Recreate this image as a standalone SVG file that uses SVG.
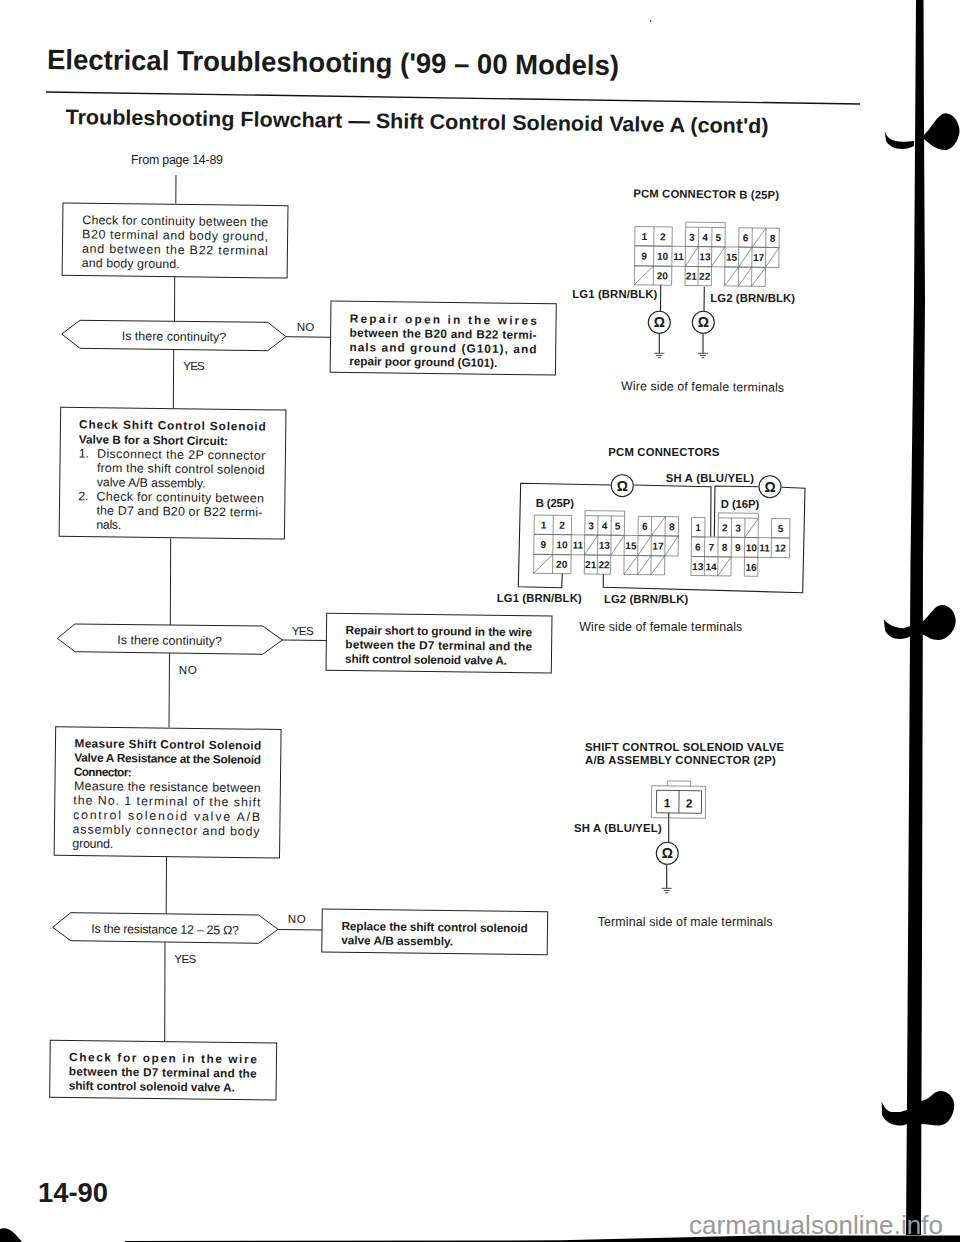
<svg xmlns="http://www.w3.org/2000/svg" width="960" height="1242" viewBox="0 0 960 1242">
<style>
text{font-family:"Liberation Sans",Arial,sans-serif;fill:#1a1a1a}
.box{fill:#fff;stroke:#222;stroke-width:1}
.flow{fill:none;stroke:#222;stroke-width:1}
.wire{fill:none;stroke:#222;stroke-width:1.1}
.t{font-size:12.4px}
.b{font-size:11.8px;font-weight:bold}
.l{font-size:11.3px;font-weight:bold}
.c{font-size:12.4px}
.y{font-size:11.6px}
.n{font-size:10px;font-weight:bold;text-anchor:middle}
.o{font-size:14px;font-weight:bold;text-anchor:middle}
.grid{fill:none;stroke:#666;stroke-width:.7}
.g{fill:#fff;stroke:#222;stroke-width:1.1}
.gnd{fill:none;stroke:#333;stroke-width:.9}
</style>
<defs>
<g id="grid25" class="grid">
<path d="M0 0H37.3V19.3H0ZM19 0V19.3M50.7 0H90.3V19.3H50.7ZM63.7 0V19.3M77 0V19.3M50.7 0V-5H90.3V0M104 0H144.3V19.3H104ZM117.3 0V19.3M131 0V19.3M117.3 19.3L131 0"/>
<path d="M0 19.3H144.3V39.3H0ZM19 19.3V39.3M37.3 19.3V39.3M50.7 19.3V39.3M63.7 19.3V39.3M77 19.3V39.3M90.3 19.3V39.3M104 19.3V39.3M117.3 19.3V39.3M131 19.3V39.3M50.7 39.3L63.7 19.3M77 39.3L90.3 19.3M104 39.3L117.3 19.3M131 39.3L144.3 19.3"/>
<path d="M0 39.3H37.3V58.3H0ZM19 39.3V58.3M0 58.3L19 39.3M50.7 39.3H77V58.3H50.7ZM63.7 39.3V58.3M90.3 39.3H131V58.3H90.3ZM104 39.3V58.3M117.3 39.3V58.3M90.3 58.3L104 39.3M104 58.3L117.3 39.3M117.3 58.3L131 39.3"/>
</g>
<g id="gndsym" class="gnd"><path d="M-5 0H5M-3 2.2H3M-1.5 4.4H1.5"/></g>
</defs>

<g id="page-marks" fill="#000">
<path d="M916 0H923.5L924 130L925 300L923 560L922 942L921 1235H906L907 1100L908 942L910.5 560L914 300Z"/>
<path d="M884.3 127.7C885 138 892 142 905 141.7L914 141V146C905 151 891 150 886 141Z"/>
<path d="M924 135C932 128 938 113 946 113.3C955 114 960 125 959.5 132C958 142 952 150 945 150C936 150 930 144 924 139Z"/>
<path d="M883.7 619.3C888 625 896 628 903.3 628.3L911 626V636C902 641 889 640 885 630Z"/>
<path d="M922 622C930 616 934 605 942 605C950 605 956 613 955.7 621.7C955 632 946 640 938 640C932 640 928 637 922 634Z"/>
<path d="M881.7 1101.3C884 1108 888 1112 892 1112L900 1112L907 1110V1124C898 1128 886 1124 882 1115Z"/>
<path d="M921 1101C930 1100 933 1091 940 1091C948 1091 954 1097 954.3 1105.3C954 1115 948 1125 940 1125.5C934 1126 928 1124 921 1124Z"/>
<path d="M0 1229C8 1226 15 1233 22 1242H0Z"/>
<path d="M125 1241L560 1240.3L760 1235.5H960V1242H125Z"/>
<circle cx="650.7" cy="21" r=".8"/>
</g>

<g id="header">
<text x="47" y="69" transform="rotate(.6 47 69)" font-size="28" font-weight="bold" textLength="572" lengthAdjust="spacingAndGlyphs">Electrical Troubleshooting ('99 – 00 Models)</text>
<path d="M46 92L860 104" fill="none" stroke="#111" stroke-width="1.4"/>
<text x="65.5" y="124" transform="rotate(.75 65.5 124)" font-size="21" font-weight="bold" textLength="703" lengthAdjust="spacingAndGlyphs">Troubleshooting Flowchart — Shift Control Solenoid Valve A (cont'd)</text>
<text x="131" y="164" class="c" textLength="92">From page 14-89</text>
</g>

<g id="connectors">
<path class="flow" d="M176 175L175.8 203.5"/>
<path class="flow" d="M174.7 277L174.5 321"/>
<path class="flow" d="M173.7 350L173.3 408.5"/>
<path class="flow" d="M286 336.7L331 337.3"/>
<path class="flow" d="M170.7 538.5L170.3 625"/>
<path class="flow" d="M282.3 640L326.5 640.5"/>
<path class="flow" d="M169.5 653L169 727.5"/>
<path class="flow" d="M166.5 856L166.2 914"/>
<path class="flow" d="M278 929.5L322.2 930"/>
<path class="flow" d="M165 942L164.7 1041"/>
<path class="wire" d="M660.7 285L660.5 311.7M659.3 333.3V353.3"/>
<path class="wire" d="M704.3 286.7L704 311.7M703 333.3V353.3"/>
<path class="wire" d="M611 485L520.7 483.3L518.3 586.7L561.7 587.7L562.3 573.3"/>
<path class="wire" d="M633 485L711 486.7L710.7 536.7"/>
<path class="wire" d="M714.3 536.7L715 486L758.3 486.7"/>
<path class="wire" d="M781.7 487.3L805 488.3L802.7 592.7L603.3 587.3L603.3 574"/>
<path class="wire" d="M668.7 813V843.3M666.7 864.7V888.3"/>
</g>

<g id="n1" transform="translate(63 203) rotate(.7)">
<rect class="box" width="225" height="72.3"/>
<text class="t" x="19.5" y="20.8" textLength="186">Check for continuity between the</text>
<text class="t" x="19.5" y="35.1" textLength="186">B20 terminal and body ground,</text>
<text class="t" x="19.5" y="49.5" textLength="186">and between the B22 terminal</text>
<text class="t" x="19.5" y="63.8" textLength="98">and body ground.</text>
</g>
<g id="d1">
<polygon class="box" points="61.7,334 80,320.3 267.7,322.3 286,336.7 267.7,350.7 80,348.3"/>
<text class="t" x="121.7" y="340" transform="rotate(.7 121.7 340)" textLength="104.5">Is there continuity?</text>
</g>
<text class="y" x="296.7" y="330.7" textLength="17.5">NO</text>
<text class="y" x="183.3" y="370" textLength="21.5">YES</text>
<g id="n2" transform="translate(331 301) rotate(.7)">
<rect class="box" width="225.3" height="71.3"/>
<text class="b" x="19" y="21.3" textLength="187">Repair open in the wires</text>
<text class="b" x="19" y="35.5" textLength="187">between the B20 and B22 termi-</text>
<text class="b" x="19" y="49.8" textLength="187">nals and ground (G101), and</text>
<text class="b" x="19" y="63.9" textLength="148">repair poor ground (G101).</text>
</g>
<g id="n3" transform="translate(60.7 407.3) rotate(.7)">
<rect class="box" width="225.3" height="129"/>
<text class="b" x="18.6" y="20.8" textLength="186.7">Check Shift Control Solenoid</text>
<text class="b" x="18.6" y="35.8" textLength="149">Valve B for a Short Circuit:</text>
<text class="t" x="18.6" y="50">1.</text>
<text class="t" x="37" y="50" textLength="168">Disconnect the 2P connector</text>
<text class="t" x="37" y="64.2" textLength="167.7">from the shift control solenoid</text>
<text class="t" x="37" y="78.5" textLength="108.7">valve A/B assembly.</text>
<text class="t" x="18.6" y="92.7">2.</text>
<text class="t" x="37" y="92.7" textLength="167.3">Check for continuity between</text>
<text class="t" x="37" y="106.8" textLength="166">the D7 and B20 or B22 termi-</text>
<text class="t" x="37" y="120.9" textLength="25">nals.</text>
</g>
<g id="d2">
<polygon class="box" points="57.3,638.3 75,624 262.7,626 282.3,640 262.7,654.3 75,651.7"/>
<text class="t" x="117.3" y="644" transform="rotate(.7 117.3 644)" textLength="104.7">Is there continuity?</text>
</g>
<text class="y" x="291.7" y="635" textLength="22">YES</text>
<text class="y" x="178.7" y="674" textLength="18">NO</text>
<g id="n4" transform="translate(326.7 613.3) rotate(.7)">
<rect class="box" width="225.3" height="57"/>
<text class="b" x="19" y="20.5" textLength="186.7">Repair short to ground in the wire</text>
<text class="b" x="19" y="34.8" textLength="186.7">between the D7 terminal and the</text>
<text class="b" x="19" y="49.2" textLength="161.7">shift control solenoid valve A.</text>
</g>
<g id="n5" transform="translate(55.7 726.7) rotate(.7)">
<rect class="box" width="225.4" height="128.5"/>
<text class="b" x="19" y="20.4" textLength="186.7">Measure Shift Control Solenoid</text>
<text class="b" x="19" y="34.6" textLength="186.7">Valve A Resistance at the Solenoid</text>
<text class="b" x="18.6" y="48.8" textLength="58">Connector:</text>
<text class="t" x="19" y="63" textLength="186.7">Measure the resistance between</text>
<text class="t" x="18.6" y="77.4" textLength="187">the No. 1 terminal of the shift</text>
<text class="t" x="18.4" y="92" textLength="187">control solenoid valve A/B</text>
<text class="t" x="18.2" y="106.4" textLength="187">assembly connector and body</text>
<text class="t" x="18" y="120.6" textLength="41">ground.</text>
</g>
<g id="d3">
<polygon class="box" points="52.7,927.3 70.7,912.7 258.7,915 278,929.3 258.7,943.3 70.7,940.7"/>
<text class="t" x="91.3" y="932.7" transform="rotate(.7 91.3 932.7)" textLength="147.7">Is the resistance 12 – 25 Ω?</text>
</g>
<text class="y" x="287.7" y="923.3" textLength="18">NO</text>
<text class="y" x="174.3" y="963.3" textLength="22">YES</text>
<g id="n6" transform="translate(322.3 909) rotate(.7)">
<rect class="box" width="225.4" height="43"/>
<text class="b" x="19.4" y="20.8" textLength="186.3">Replace the shift control solenoid</text>
<text class="b" x="19.4" y="34.9" textLength="111.7">valve A/B assembly.</text>
</g>
<g id="n7" transform="translate(50.3 1040.3) rotate(.7)">
<rect class="box" width="226.4" height="57"/>
<text class="b" x="19" y="20.5" textLength="187.7">Check for open in the wire</text>
<text class="b" x="19" y="34.8" textLength="187.7">between the D7 terminal and the</text>
<text class="b" x="19" y="49" textLength="166">shift control solenoid valve A.</text>
</g>
<text id="page-number" x="38" y="1201.7" font-size="28" font-weight="bold" textLength="70" lengthAdjust="spacingAndGlyphs">14-90</text>

<g id="pcm-b">
<text class="l" x="633.3" y="197.3" transform="rotate(.6 633.3 197.3)" textLength="145.7">PCM CONNECTOR B (25P)</text>
<g id="conn-b-top" transform="translate(635 226.5) rotate(.7)">
<use href="#grid25"/>
<text class="n" x="9.5" y="13.5">1</text><text class="n" x="28" y="13.5">2</text><text class="n" x="57" y="13.5">3</text><text class="n" x="70.3" y="13.5">4</text><text class="n" x="83.5" y="13.5">5</text><text class="n" x="110.6" y="13.5">6</text><text class="n" x="137.6" y="13.5">8</text>
<text class="n" x="9.5" y="33">9</text><text class="n" x="28" y="33">10</text><text class="n" x="44" y="33">11</text><text class="n" x="70.3" y="33">13</text><text class="n" x="97" y="33">15</text><text class="n" x="124" y="33">17</text>
<text class="n" x="28" y="52.5">20</text><text class="n" x="57" y="52.5">21</text><text class="n" x="70.3" y="52.5">22</text>
</g>
<text class="l" x="572.3" y="298.3" textLength="85">LG1 (BRN/BLK)</text>
<text class="l" x="710.3" y="302.3" textLength="84.7">LG2 (BRN/BLK)</text>
<circle class="g" cx="659.3" cy="322.3" r="11"/><text class="o" x="659.3" y="327.2">Ω</text>
<circle class="g" cx="703.3" cy="322.3" r="11"/><text class="o" x="703.3" y="327.2">Ω</text>
<use href="#gndsym" x="659.3" y="353.3"/><use href="#gndsym" x="703" y="353.3"/>
<text class="c" x="621" y="390" transform="rotate(.6 621 390)" textLength="163">Wire side of female terminals</text>
</g>

<g id="pcm-all">
<text class="l" x="608.3" y="456" textLength="111">PCM CONNECTORS</text>
<text class="l" x="665.7" y="481.7" textLength="88.3">SH A (BLU/YEL)</text>
<text class="l" x="535.7" y="506.7" textLength="38.3">B (25P)</text>
<text class="l" x="720.7" y="508.3" textLength="38.6">D (16P)</text>
<circle class="g" cx="622.3" cy="485.7" r="11"/><text class="o" x="622.3" y="490.6">Ω</text>
<circle class="g" cx="770" cy="486.7" r="11"/><text class="o" x="770" y="491.6">Ω</text>
<g id="conn-b" transform="translate(534.3 515) rotate(.7)">
<use href="#grid25"/>
<text class="n" x="9.5" y="13.5">1</text><text class="n" x="28" y="13.5">2</text><text class="n" x="57" y="13.5">3</text><text class="n" x="70.3" y="13.5">4</text><text class="n" x="83.5" y="13.5">5</text><text class="n" x="110.6" y="13.5">6</text><text class="n" x="137.6" y="13.5">8</text>
<text class="n" x="9.5" y="33">9</text><text class="n" x="28" y="33">10</text><text class="n" x="44" y="33">11</text><text class="n" x="70.3" y="33">13</text><text class="n" x="97" y="33">15</text><text class="n" x="124" y="33">17</text>
<text class="n" x="28" y="52.5">20</text><text class="n" x="57" y="52.5">21</text><text class="n" x="70.3" y="52.5">22</text>
</g>
<g id="conn-d" transform="translate(691.7 517.5) rotate(.7)">
<path class="grid" d="M0 0H13.3V19.3H0ZM26.7 0H66.7V19.3H26.7ZM40 0V19.3M53.3 0V19.3M53.3 19.3L66.7 0M26.7 0V-5H66.7V0M80 0H98.3V19.3H80Z"/>
<path class="grid" d="M0 19.3H98.3V39H0ZM13.3 19.3V39M26.7 19.3V39M40 19.3V39M53.3 19.3V39M66.7 19.3V39M80 19.3V39"/>
<path class="grid" d="M0 39H40V58H0ZM13.3 39V58M26.7 39V58M26.7 58L40 39M53.3 39H66.7V58H53.3Z"/>
<text class="n" x="6.6" y="13.5">1</text><text class="n" x="33.3" y="13.5">2</text><text class="n" x="46.6" y="13.5">3</text><text class="n" x="89" y="13.5">5</text>
<text class="n" x="6.6" y="33">6</text><text class="n" x="20" y="33">7</text><text class="n" x="33.3" y="33">8</text><text class="n" x="46.6" y="33">9</text><text class="n" x="60" y="33">10</text><text class="n" x="73.3" y="33">11</text><text class="n" x="89" y="33">12</text>
<text class="n" x="6.6" y="52.5">13</text><text class="n" x="20" y="52.5">14</text><text class="n" x="60" y="52.5">16</text>
</g>
<text class="l" x="496.7" y="602.3" textLength="85">LG1 (BRN/BLK)</text>
<text class="l" x="604" y="603.3" textLength="84.3">LG2 (BRN/BLK)</text>
<text class="c" x="579.3" y="631" textLength="163">Wire side of female terminals</text>
</g>

<g id="sol-conn">
<text class="l" x="585" y="750.5" textLength="199">SHIFT CONTROL SOLENOID VALVE</text>
<text class="l" x="585" y="763.5" textLength="190.7">A/B ASSEMBLY CONNECTOR (2P)</text>
<g transform="translate(651.7 785.7) rotate(.7)">
<path class="grid" d="M0 0H54V32H0ZM16 0V-5H39V0"/>
<path d="M5 4.5H50V27H5ZM27.5 4.5V27" fill="none" stroke="#444" stroke-width=".9"/>
<text x="15.6" y="21.5" font-size="12" font-weight="bold" text-anchor="middle">1</text>
<text x="37.6" y="21.5" font-size="12" font-weight="bold" text-anchor="middle">2</text>
</g>
<text class="l" x="574" y="832.3" textLength="87.7">SH A (BLU/YEL)</text>
<circle class="g" cx="667.3" cy="853.3" r="11"/><text class="o" x="667.3" y="858.2">Ω</text>
<use href="#gndsym" x="666.7" y="888.3"/>
<text class="c" x="597.7" y="926" textLength="175">Terminal side of male terminals</text>
</g>

<text id="watermark" x="689" y="1233.7" font-size="26" textLength="254" style="fill:#999">carmanualsonline.info</text>
</svg>
